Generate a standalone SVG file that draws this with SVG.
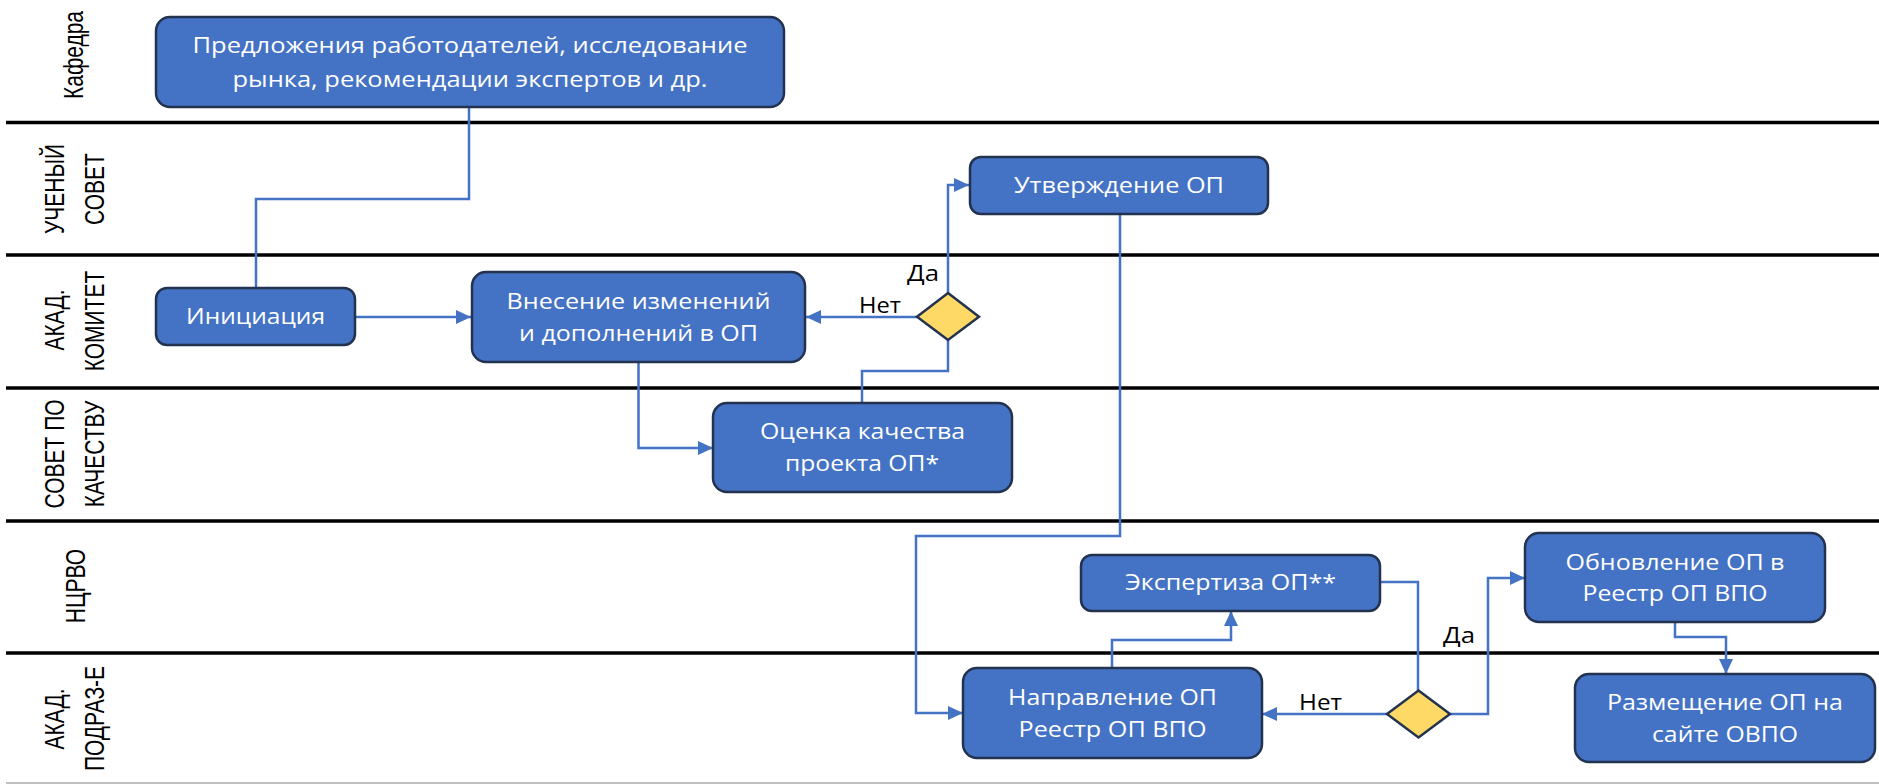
<svg xmlns="http://www.w3.org/2000/svg" width="1879" height="784" viewBox="0 0 1879 784">
<style>
.lane{stroke:#000;stroke-width:3.5}
.node rect{fill:#4472C4;stroke:#22324f;stroke-width:2.5}
.dec polygon{fill:#FFD966;stroke:#22324f;stroke-width:2.5}
.nt{font-family:"Open Sans","DejaVu Sans",sans-serif;font-size:21px;fill:#fff;text-anchor:middle}
.lbl{font-family:"Open Sans","DejaVu Sans",sans-serif;font-size:21px;fill:#000;text-anchor:middle}
.ll{font-family:"Liberation Sans",Arial,sans-serif;font-size:21px;fill:#000;text-anchor:middle}
.c{fill:none;stroke:#4472C4;stroke-width:2.5}
</style>
<defs>
<marker id="ah" markerUnits="userSpaceOnUse" markerWidth="16" markerHeight="15" refX="15" refY="7" orient="auto">
<path d="M0,0 L15,7 L0,14 Z" fill="#4472C4"/>
</marker>
</defs>
<rect x="0" y="0" width="1879" height="784" fill="#fff"/>
<g id="lanes">
<line class="lane" x1="6" y1="122.5" x2="1879" y2="122.5"/>
<line class="lane" x1="6" y1="255" x2="1879" y2="255"/>
<line class="lane" x1="6" y1="388" x2="1879" y2="388"/>
<line class="lane" x1="6" y1="521" x2="1879" y2="521"/>
<line class="lane" x1="6" y1="653" x2="1879" y2="653"/>
<line x1="6" y1="783" x2="1879" y2="783" stroke="#bfbfbf" stroke-width="2"/>
<text class="ll" transform="translate(83,55) scale(1.3,1) rotate(-90)">Кафедра</text>
<text class="ll" transform="translate(64,189) scale(1.3,1) rotate(-90)">УЧЕНЫЙ</text>
<text class="ll" transform="translate(104,189) scale(1.3,1) rotate(-90)">СОВЕТ</text>
<text class="ll" transform="translate(64,320) scale(1.3,1) rotate(-90)">АКАД.</text>
<text class="ll" transform="translate(104,321) scale(1.3,1) rotate(-90)">КОМИТЕТ</text>
<text class="ll" transform="translate(64,454) scale(1.3,1) rotate(-90)">СОВЕТ ПО</text>
<text class="ll" transform="translate(104,454) scale(1.3,1) rotate(-90)">КАЧЕСТВУ</text>
<text class="ll" transform="translate(85,586) scale(1.3,1) rotate(-90)">НЦРВО</text>
<text class="ll" transform="translate(64,719) scale(1.3,1) rotate(-90)">АКАД.</text>
<text class="ll" transform="translate(104,718.5) scale(1.3,1) rotate(-90)">ПОДРАЗ-Е</text>
</g>
<g id="connectors">
<path class="c" d="M469,108 V199 H256 V288"/>
<path class="c" d="M356,317 H471" marker-end="url(#ah)"/>
<path class="c" d="M638.5,362 V448 H713" marker-end="url(#ah)"/>
<path class="c" d="M862,403 V371 H948 V340"/>
<path class="c" d="M917,317 H806" marker-end="url(#ah)"/>
<path class="c" d="M948,293 V185 H969" marker-end="url(#ah)"/>
<path class="c" d="M1120,214 V536 H916 V713 H963" marker-end="url(#ah)"/>
<path class="c" d="M1112,668 V640 H1231 V611" marker-end="url(#ah)"/>
<path class="c" d="M1380,582 H1418 V691"/>
<path class="c" d="M1387,714 H1262" marker-end="url(#ah)"/>
<path class="c" d="M1450,714 H1488 V578 H1525" marker-end="url(#ah)"/>
<path class="c" d="M1675,622 V637 H1726 V674" marker-end="url(#ah)"/>
<text class="lbl" x="923" y="281" textLength="32" lengthAdjust="spacingAndGlyphs">Да</text>
<text class="lbl" x="880" y="313" textLength="42" lengthAdjust="spacingAndGlyphs">Нет</text>
<text class="lbl" x="1320.5" y="710" textLength="43" lengthAdjust="spacingAndGlyphs">Нет</text>
<text class="lbl" x="1459" y="643" textLength="32" lengthAdjust="spacingAndGlyphs">Да</text>
</g>
<g id="n-kafedra" class="node">
<rect x="156" y="17" width="628" height="90" rx="14"/>
<text class="nt" x="470" y="53" textLength="555" lengthAdjust="spacingAndGlyphs">Предложения работодателей, исследование</text>
<text class="nt" x="470" y="87" textLength="475" lengthAdjust="spacingAndGlyphs">рынка, рекомендации экспертов и др.</text>
</g>
<g id="n-init" class="node">
<rect x="156" y="288" width="199" height="57" rx="11"/>
<text class="nt" x="255.5" y="324" textLength="139" lengthAdjust="spacingAndGlyphs">Инициация</text>
</g>
<g id="n-changes" class="node">
<rect x="472" y="272" width="333" height="90" rx="14"/>
<text class="nt" x="638.5" y="309" textLength="264" lengthAdjust="spacingAndGlyphs">Внесение изменений</text>
<text class="nt" x="638.5" y="341" textLength="239" lengthAdjust="spacingAndGlyphs">и дополнений в ОП</text>
</g>
<g id="n-approve" class="node">
<rect x="970" y="157" width="298" height="57" rx="11"/>
<text class="nt" x="1119" y="193" textLength="210" lengthAdjust="spacingAndGlyphs">Утверждение ОП</text>
</g>
<g id="n-quality" class="node">
<rect x="713" y="403" width="299" height="89" rx="14"/>
<text class="nt" x="862.5" y="439" textLength="205" lengthAdjust="spacingAndGlyphs">Оценка качества</text>
<text class="nt" x="862" y="471" textLength="154" lengthAdjust="spacingAndGlyphs">проекта ОП*</text>
</g>
<g id="n-expert" class="node">
<rect x="1081" y="555" width="299" height="56" rx="11"/>
<text class="nt" x="1230.5" y="590" textLength="211" lengthAdjust="spacingAndGlyphs">Экспертиза ОП**</text>
</g>
<g id="n-send" class="node">
<rect x="963" y="668" width="299" height="90" rx="14"/>
<text class="nt" x="1112.5" y="705" textLength="209" lengthAdjust="spacingAndGlyphs">Направление ОП</text>
<text class="nt" x="1112.5" y="737" textLength="188" lengthAdjust="spacingAndGlyphs">Реестр ОП ВПО</text>
</g>
<g id="n-update" class="node">
<rect x="1525" y="533" width="300" height="89" rx="14"/>
<text class="nt" x="1675" y="570" textLength="219" lengthAdjust="spacingAndGlyphs">Обновление ОП в</text>
<text class="nt" x="1675" y="601" textLength="185" lengthAdjust="spacingAndGlyphs">Реестр ОП ВПО</text>
</g>
<g id="n-publish" class="node">
<rect x="1575" y="674" width="300" height="88" rx="14"/>
<text class="nt" x="1725" y="710" textLength="236" lengthAdjust="spacingAndGlyphs">Размещение ОП на</text>
<text class="nt" x="1725" y="742" textLength="146" lengthAdjust="spacingAndGlyphs">сайте ОВПО</text>
</g>
<g id="d-1" class="dec">
<polygon points="948,293 979,316.7 948,340 917,316.7"/>
</g>
<g id="d-2" class="dec">
<polygon points="1418.5,690.5 1450,714 1418.5,737.5 1387,714"/>
</g>
</svg>
